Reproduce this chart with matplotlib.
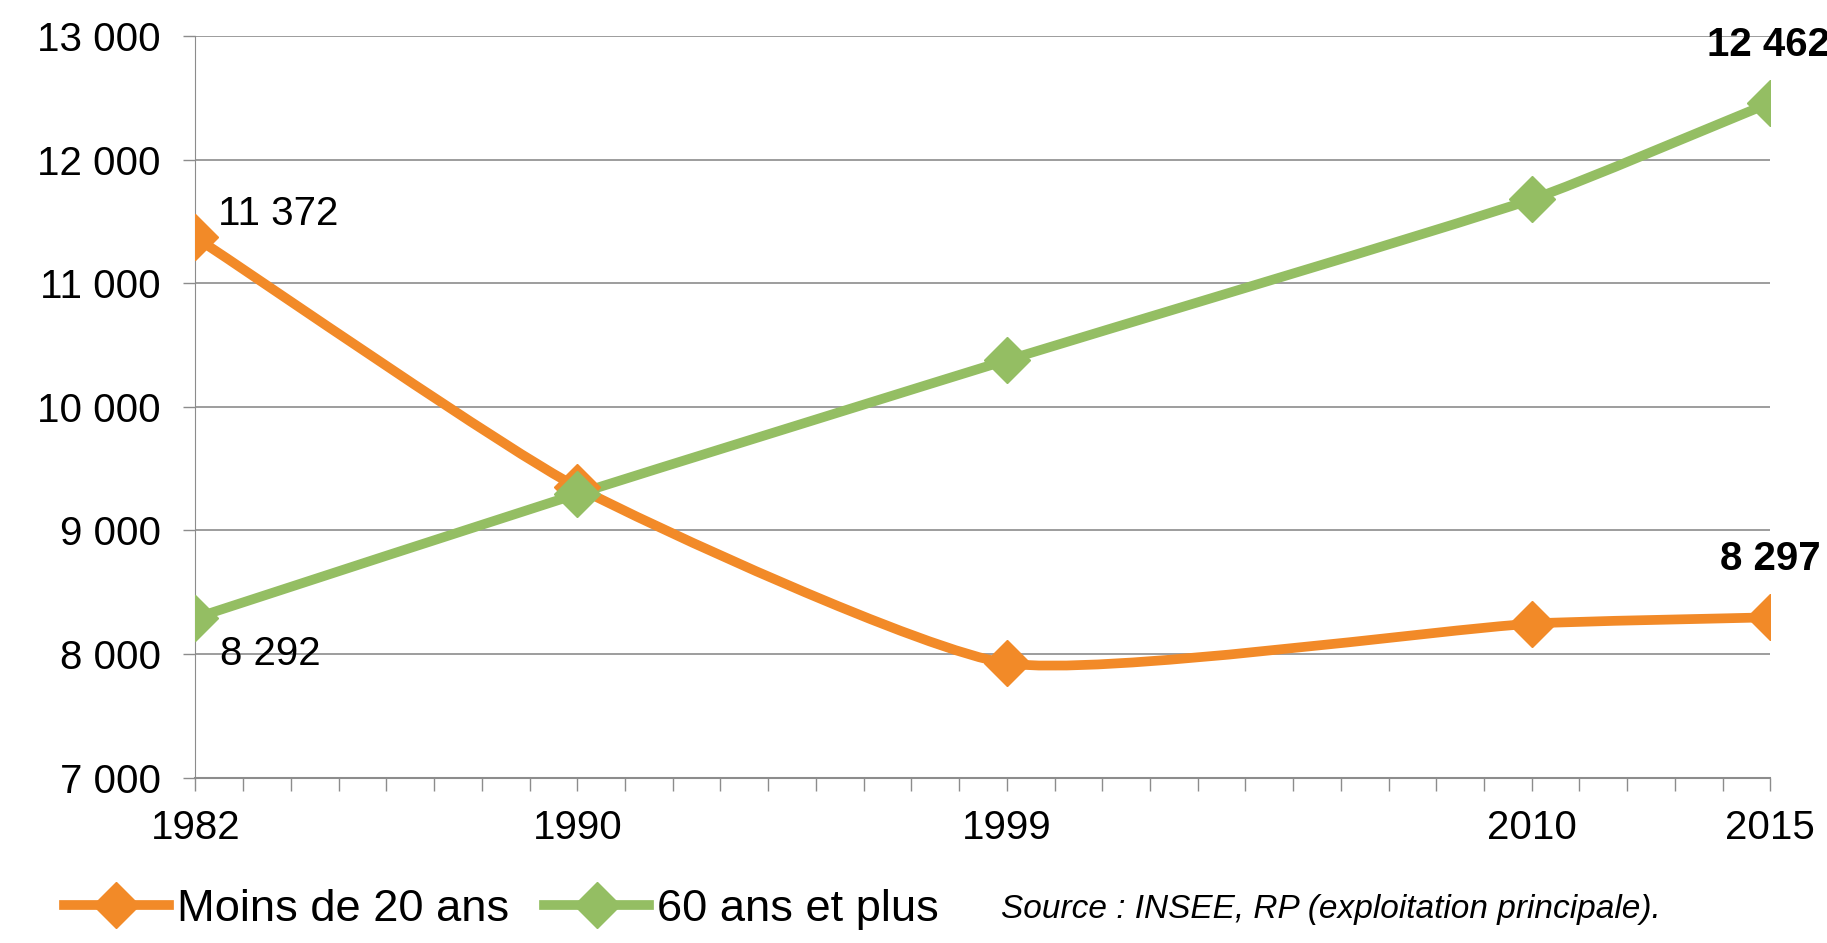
import matplotlib.pyplot as plt
import numpy as np
from matplotlib.path import Path
from matplotlib.patches import PathPatch
from matplotlib.lines import Line2D

plt.rcParams['font.family'] = ['Liberation Sans', 'DejaVu Sans']

years = [1982, 1990, 1999, 2010, 2015]
moins_20 = [11372, 9350, 7925, 8245, 8297]
plus_60 = [8292, 9295, 10378, 11680, 12462]
series_names = ["Moins de 20 ans", "60 ans et plus"]
source = "Source : INSEE, RP (exploitation principale)."

orange = '#F28A28'
green = '#94BE63'
grey = '#8C8C8C'


def smooth_path(ax, x, y, k=0.18):
    # Excel-like smoothed line, built in screen space then mapped back to data
    p = ax.transData.transform(np.column_stack([x, y]).astype(float))
    n = len(p)
    tang = []
    for i in range(n):
        a = p[max(i - 1, 0)]
        b = p[min(i + 1, n - 1)]
        t = b - a
        tang.append(t / np.hypot(*t))
    verts = [p[0]]
    codes = [Path.MOVETO]
    for i in range(n - 1):
        d = np.hypot(*(p[i + 1] - p[i]))
        verts += [p[i] + tang[i] * d * k, p[i + 1] - tang[i + 1] * d * k, p[i + 1]]
        codes += [Path.CURVE4] * 3
    verts = ax.transData.inverted().transform(np.array(verts))
    return Path(verts, codes)


fig = plt.figure(figsize=(18.27, 9.43), dpi=100)
ax = fig.add_axes([0.107, 0.1755, 0.862, 0.786])

ax.set_xlim(years[0], years[-1])
ax.set_ylim(7000, 13000)

for vals, col in [(moins_20, orange), (plus_60, green)]:
    ax.add_patch(PathPatch(smooth_path(ax, years, vals), fill=False, edgecolor=col,
                           lw=7, capstyle='butt', joinstyle='round', zorder=3))
    ax.plot(years, vals, ls='none', marker='D', ms=23, color=col, zorder=4)

yt = np.arange(7000, 13001, 1000)
ax.set_yticks(yt)
ax.set_yticklabels([f"{v:,}".replace(",", " ") for v in yt])
all_years = np.arange(years[0], years[-1] + 1)
ax.set_xticks(all_years)
ax.set_xticklabels([str(y) if y in years else "" for y in all_years])
ax.tick_params(axis='both', labelsize=29, color=grey, length=9, width=1)
ax.tick_params(axis='x', pad=14)
ax.tick_params(axis='y', pad=16)

ax.grid(axis='y', color=grey, lw=1.2)
ax.set_axisbelow(True)
for s in ['top', 'right']:
    ax.spines[s].set_visible(False)
ax.spines['left'].set_color(grey)
ax.spines['bottom'].set_color(grey)
ax.spines['bottom'].set_linewidth(1.5)

# data labels
ax.annotate(f"{moins_20[0]:,}".replace(",", " "), (years[0], moins_20[0]),
            xytext=(16, 3), textcoords='offset points', fontsize=29, va='bottom')
ax.annotate(f"{plus_60[0]:,}".replace(",", " "), (years[0], plus_60[0]),
            xytext=(18, -12), textcoords='offset points', fontsize=29, va='top')
ax.annotate(f"{plus_60[-1]:,}".replace(",", " "), (years[-1], plus_60[-1]),
            xytext=(43, 28), textcoords='offset points', fontsize=29,
            fontweight='bold', ha='right', va='bottom', annotation_clip=False)
ax.annotate(f"{moins_20[-1]:,}".replace(",", " "), (years[-1], moins_20[-1]),
            xytext=(36, 28), textcoords='offset points', fontsize=29,
            fontweight='bold', ha='right', va='bottom', annotation_clip=False)

handles = [Line2D([], [], color=c, lw=7, marker='D', ms=23) for c in (orange, green)]
fig.legend(handles, series_names, loc='center left', bbox_to_anchor=(0.035, 0.036),
           ncol=2, frameon=False, fontsize=32.6, handlelength=2.32, handletextpad=0.18,
           columnspacing=0.77, borderaxespad=0, borderpad=0)
fig.text(0.548, 0.036, source, fontsize=24, style='italic', va='center')

fig.savefig('out.png', dpi=100)
